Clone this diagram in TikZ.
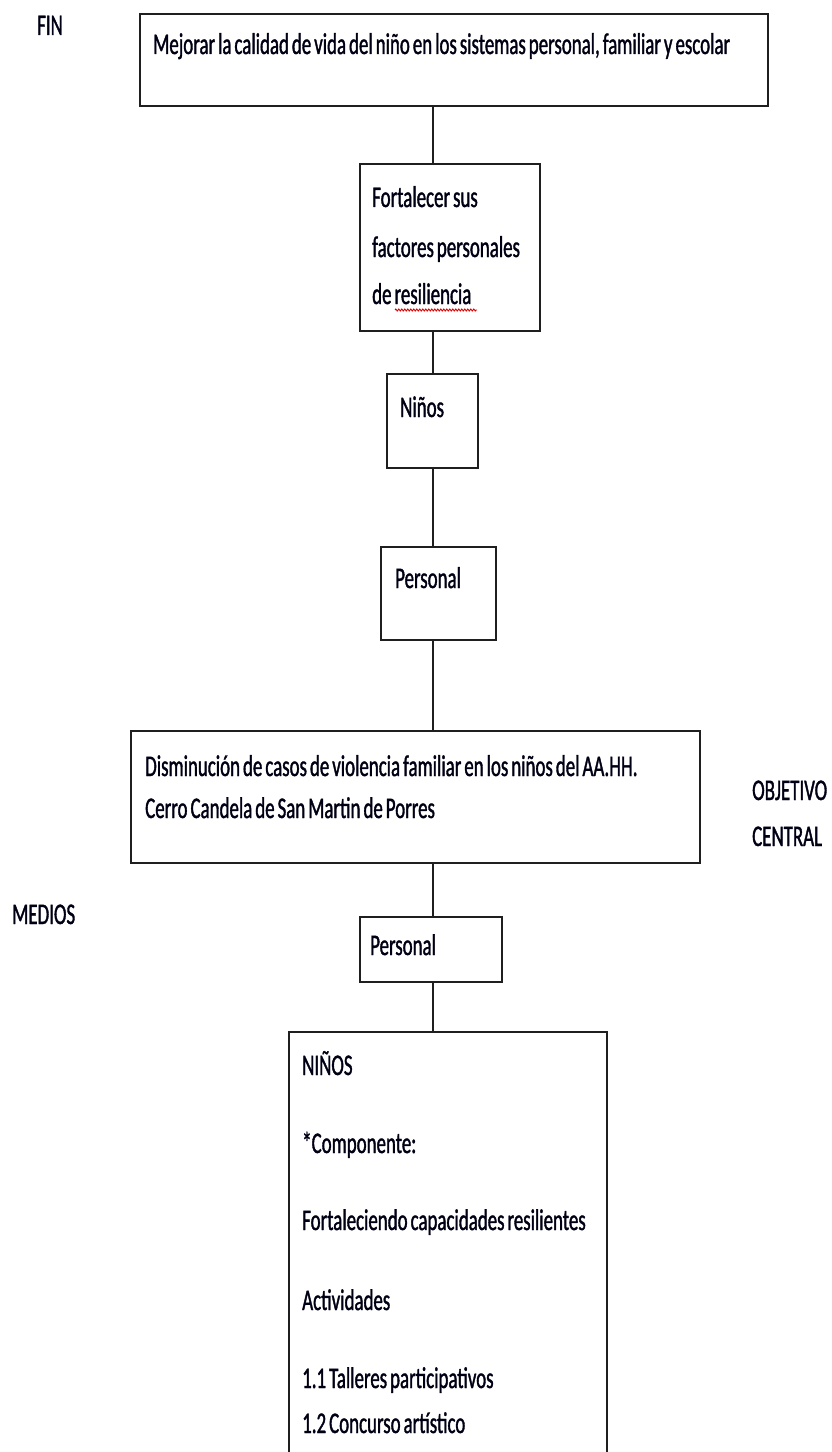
\documentclass[tikz,border=0pt]{standalone}
\usepackage{fontspec}
\setmainfont{Carlito}[FakeStretch=0.63,FakeBold=1.2,WordSpace=0.7]
\usetikzlibrary{decorations.pathmorphing}
\begin{document}
\begin{tikzpicture}[x=1bp,y=-1bp,
  box/.style={draw=black!88, line width=1.8bp, rectangle, inner sep=0pt},
  txt/.style={anchor=base west, inner sep=0pt, text=black!92!blue, font=\fontsize{30bp}{36bp}\selectfont},
  link/.style={draw=black!88, line width=1.8bp}]
\useasboundingbox[fill=white] (0,0) rectangle (831,1452);
\coordinate (ax) at (433,0);
% boxes
\node[box, minimum width=628bp, minimum height=92bp] (b1) at (454,60) {};
\node[box, minimum width=180bp, minimum height=167bp] (b2) at (450,247.5) {};
\node[box, minimum width=91bp, minimum height=94bp] (b3) at (432.5,421) {};
\node[box, minimum width=115bp, minimum height=93bp] (b4) at (438.5,593.5) {};
\node[box, minimum width=569bp, minimum height=132bp] (b5) at (415.5,797) {};
\node[box, minimum width=142bp, minimum height=65bp] (b6) at (431,949.5) {};
\node[box, minimum width=318bp, minimum height=430bp] (b7) at (448,1247) {};
% connectors
\draw[link] (b1.south -| ax) -- (b2.north -| ax);
\draw[link] (b2.south -| ax) -- (b3.north -| ax);
\draw[link] (b3.south -| ax) -- (b4.north -| ax);
\draw[link] (b4.south -| ax) -- (b5.north -| ax);
\draw[link] (b5.south -| ax) -- (b6.north -| ax);
\draw[link] (b6.south -| ax) -- (b7.north -| ax);
% side labels
\node[txt] (fin) at (37,35) {FIN};
\node[txt] (obj) at (752,800) {OBJETIVO};
\node[txt] (cen) at (752,846) {CENTRAL};
\node[txt] (med) at (12,924) {MEDIOS};
% texts
\node[txt] (t1) at (153,54) {Mejorar la calidad de vida del niño en los sistemas personal, familiar y escolar};
\node[txt] (t2a) at (372,207) {Fortalecer sus};
\node[txt] (t2b) at (372,257) {factores personales};
\node[txt] (t2c) at (372,304) {de resiliencia};
\draw[red!85!black, line width=0.9bp, decorate, decoration={zigzag, segment length=3bp, amplitude=1bp}] (395,310) -- (477,310);
\node[txt] (t3) at (400,417) {Niños};
\node[txt] (t4) at (395,588) {Personal};
\node[txt] (t5a) at (145,776) {Disminución de casos de violencia familiar en los niños del AA.HH.};
\node[txt] (t5b) at (145,818) {Cerro Candela de San Martin de Porres};
\node[txt] (t6) at (370,955) {Personal};
\node[txt] (t7a) at (302,1075) {NIÑOS};
\node[txt] (t7b) at (302,1153) {*Componente:};
\node[txt] (t7c) at (302,1230) {Fortaleciendo capacidades resilientes};
\node[txt] (t7d) at (302,1310) {Actividades};
\node[txt] (t7e) at (302,1388) {1.1 Talleres participativos};
\node[txt] (t7f) at (302,1433) {1.2 Concurso artístico};
\end{tikzpicture}
\end{document}
